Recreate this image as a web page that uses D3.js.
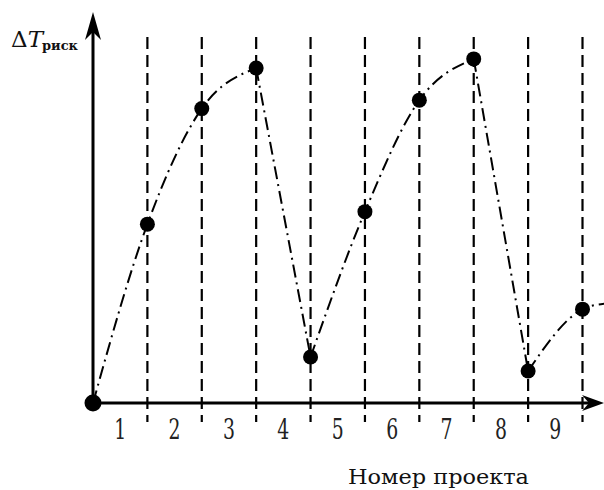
<!DOCTYPE html>
<html>
<head>
<meta charset="utf-8">
<script src="https://cdn.jsdelivr.net/npm/d3@7"></script>
<style>
  body { margin: 0; background: #fff; }
  svg { display: block; }
</style>
</head>
<body>
<div id="chart"></div>
<script>
// project boundaries (index) and risk time values
var project_index  = [0, 1, 2, 3, 4, 5, 6, 7, 8, 9];
var risk_values    = [0, 0.486, 0.80, 0.91, 0.125, 0.52, 0.823, 0.935, 0.087, 0.255];
var tail_index     = [8, 9, 9.4];
var tail_values    = [0.087, 0.255, 0.27];
var project_labels = ["1", "2", "3", "4", "5", "6", "7", "8", "9"];
var boundary_lines = [1, 2, 3, 4, 5, 6, 7, 8, 9];

// pieces of the curve: rising parts are smooth, falls are straight
var curve_pieces = [
  {from: 0, to: 3, smooth: true},
  {from: 3, to: 4, smooth: false},
  {from: 4, to: 7, smooth: true},
  {from: 7, to: 8, smooth: false}
];

var width  = 604;
var height = 490;

var x = d3.scaleLinear().domain([0, 9]).range([93, 582.5]);
var y = d3.scaleLinear().domain([0, 1]).range([403, 35]);

var svg = d3.select("#chart").append("svg")
  .attr("width", width)
  .attr("height", height);

// dashed vertical lines at project boundaries
svg.append("g").selectAll("line")
  .data(boundary_lines)
  .enter().append("line")
  .attr("x1", function (d) { return x(d); })
  .attr("x2", function (d) { return x(d); })
  .attr("y1", 37)
  .attr("y2", 422)
  .attr("stroke", "#000")
  .attr("stroke-width", 2.2)
  .attr("stroke-dasharray", "12,6");

// axes with arrows
svg.append("line")
  .attr("x1", x(0)).attr("y1", y(0))
  .attr("x2", x(0)).attr("y2", 22)
  .attr("stroke", "#000").attr("stroke-width", 3);
svg.append("path")
  .attr("d", "M" + x(0) + ",12 L" + (x(0) + 8) + ",40 L" + x(0) + ",32 L" + (x(0) - 8) + ",40 Z")
  .attr("fill", "#000");
svg.append("line")
  .attr("x1", x(0)).attr("y1", y(0))
  .attr("x2", 596).attr("y2", y(0))
  .attr("stroke", "#000").attr("stroke-width", 3);
svg.append("path")
  .attr("d", "M604," + y(0) + " L582," + (y(0) - 8) + " L589," + y(0) + " L582," + (y(0) + 8) + " Z")
  .attr("fill", "#000");

// dash-dot curve
var line_smooth = d3.line()
  .curve(d3.curveMonotoneX)
  .x(function (d) { return x(d[0]); })
  .y(function (d) { return y(d[1]); });
var line_straight = d3.line()
  .x(function (d) { return x(d[0]); })
  .y(function (d) { return y(d[1]); });

var curve_g = svg.append("g")
  .attr("fill", "none")
  .attr("stroke", "#000")
  .attr("stroke-width", 2)
  .attr("stroke-dasharray", "13,5,2,5");

curve_pieces.forEach(function (p) {
  var pts = [];
  for (var i = p.from; i <= p.to; i++) pts.push([project_index[i], risk_values[i]]);
  curve_g.append("path").attr("d", (p.smooth ? line_smooth : line_straight)(pts));
});
curve_g.append("path")
  .attr("d", line_smooth(tail_index.map(function (d, i) { return [d, tail_values[i]]; })));

// points
svg.append("g").selectAll("circle")
  .data(project_index)
  .enter().append("circle")
  .attr("cx", function (d) { return x(d); })
  .attr("cy", function (d, i) { return y(risk_values[i]); })
  .attr("r", function (d, i) { return i === 0 ? 8.5 : 7.5; })
  .attr("fill", "#000");

// project numbers
svg.append("g").selectAll("text")
  .data(project_labels)
  .enter().append("text")
  .attr("x", function (d, i) { return x(i + 0.5) - 6; })
  .attr("y", 439)
  .attr("font-family", "DejaVu Serif, serif")
  .attr("font-size", 27)
  .attr("textLength", 12)
  .attr("lengthAdjust", "spacingAndGlyphs")
  .attr("fill", "#222")
  .text(function (d) { return d; });

// axis titles
svg.append("text")
  .attr("x", 348)
  .attr("y", 484)
  .attr("font-family", "DejaVu Serif, serif")
  .attr("font-size", 21)
  .attr("textLength", 181)
  .attr("lengthAdjust", "spacingAndGlyphs")
  .attr("fill", "#111")
  .text("Номер проекта");

var y_title = svg.append("text")
  .attr("x", 11)
  .attr("y", 47)
  .attr("font-family", "DejaVu Serif, serif")
  .attr("font-size", 23)
  .attr("fill", "#111");
y_title.append("tspan").text("Δ");
y_title.append("tspan").attr("font-style", "italic").text("T");
y_title.append("tspan")
  .attr("dy", 3)
  .attr("dx", -1)
  .attr("font-family", "DejaVu Serif, serif")
  .attr("font-weight", "bold")
  .attr("font-size", 13)
  .text("риск");
</script>
</body>
</html>
